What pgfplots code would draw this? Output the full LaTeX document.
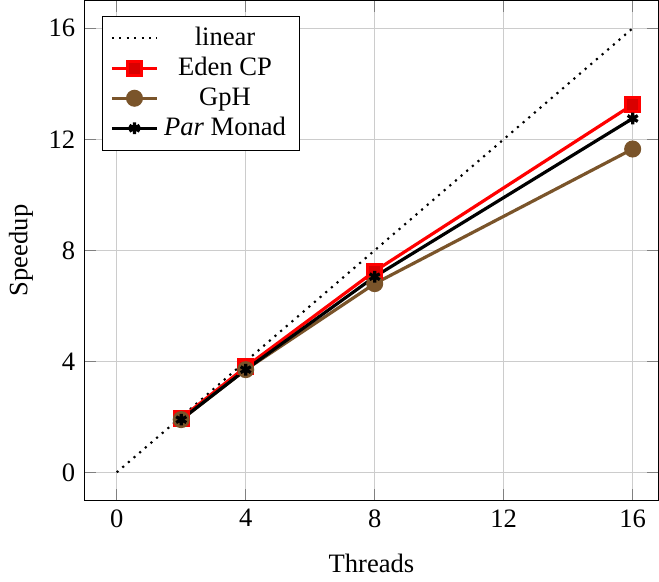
\documentclass[border=0pt]{standalone}
\usepackage{pgfplots}
\pgfplotsset{compat=1.18}
\usepackage{fontspec}
\setmainfont{Liberation Serif}
\definecolor{gphbrown}{RGB}{122,84,42}
\begin{document}
\begin{tikzpicture}
\begin{axis}[
  scale only axis,
  width=216pt, height=188pt,
  xmin=-1, xmax=16.8, ymin=-1, ymax=17,
  xtick={0,4,8,12,16}, ytick={0,4,8,12,16},
  grid=major,
  grid style={gray!40},
  major tick style={gray},
  xlabel={Threads}, ylabel={Speedup},
  xlabel style={yshift=-3pt},
  ylabel style={yshift=-1pt},
  /pgf/number format/assume math mode=true,
  legend pos=north west,
  legend cell align=center,
  legend style={font=\normalsize, row sep=-1pt},
]
\addplot[black, dotted, thick, mark=none] coordinates {(0,0) (16,16)};
\addlegendentry{linear}
\addplot[red, very thick, mark=square*, mark size=2.6pt, mark options={solid, fill=red!85!black}] coordinates {(2,1.95) (4,3.8) (8,7.25) (16,13.25)};
\addlegendentry{Eden CP}
\addplot[gphbrown, very thick, mark=*, mark size=2.6pt] coordinates {(2,1.9) (4,3.7) (8,6.8) (16,11.65)};
\addlegendentry{GpH}
\addplot[black, very thick, mark=asterisk, mark size=2.2pt] coordinates {(2,1.9) (4,3.7) (8,7.05) (16,12.75)};
\addlegendentry{\textit{Par} Monad}
\end{axis}
\end{tikzpicture}
\end{document}
